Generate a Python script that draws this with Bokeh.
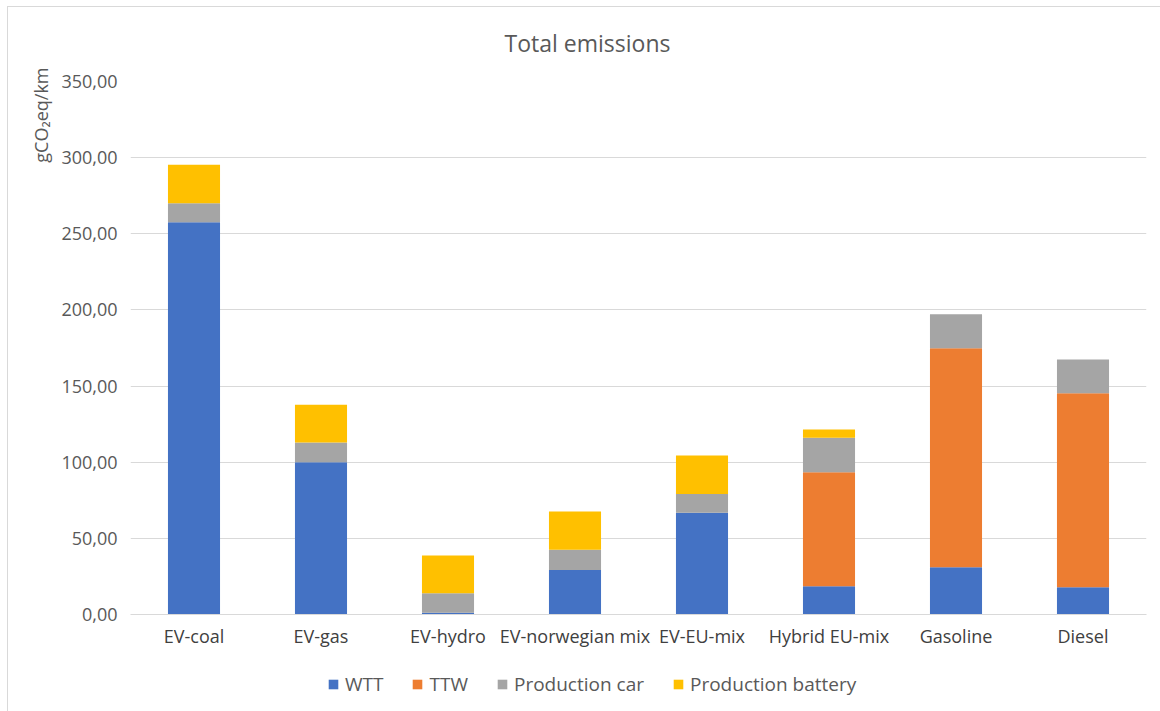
from bokeh.plotting import figure
from bokeh.layouts import column
from bokeh.models import (ColumnDataSource, FactorRange, Range1d, FixedTicker,
                          Legend, LegendItem, Title, Label)
from bokeh.embed import file_html
from bokeh.resources import INLINE

categories = ["EV-coal", "EV-gas", "EV-hydro", "EV-norwegian mix", "EV-EU-mix",
              "Hybrid EU-mix", "Gasoline", "Diesel"]
wtt = [257.6, 100.0, 1.2, 29.3, 66.8, 18.6, 31.1, 17.9]
ttw = [0.0, 0.0, 0.0, 0.0, 0.0, 74.8, 143.8, 127.4]
production_car = [12.5, 12.9, 12.8, 13.2, 12.4, 22.6, 22.3, 22.1]
production_battery = [25.2, 24.8, 24.7, 25.1, 25.2, 5.5, 0.0, 0.0]

series_names = ["WTT", "TTW", "Production car", "Production battery"]
series_colors = ["#4472C4", "#ED7D31", "#A5A5A5", "#FFC000"]

y_ticks = [0, 50, 100, 150, 200, 250, 300, 350]
y_tick_labels = ["0,00", "50,00", "100,00", "150,00", "200,00", "250,00", "300,00", "350,00"]

FONT = "Open Sans"
TEXT_GREY = "#595959"
GRID = "#d9d9d9"


def blank_strip(height):
    """A figure with no axes or grid, used to host a heading or the legend."""
    f = figure(x_range=Range1d(0, 1), y_range=Range1d(0, 1),
               width=1152, height=height,
               output_backend="svg", toolbar_location=None,
               min_border=0, outline_line_color=None,
               background_fill_color="white", border_fill_color="white")
    f.axis.visible = False
    f.grid.grid_line_color = None
    return f


source = ColumnDataSource(data={
    "cat": categories,
    "WTT": wtt,
    "TTW": ttw,
    "Production car": production_car,
    "Production battery": production_battery,
})

# heading strip
hd = blank_strip(54)
hd.add_layout(Label(x=457, y=19, x_units="screen", y_units="screen",
                    text="Total emissions", text_font=FONT, text_font_size="23px",
                    text_color=TEXT_GREY, text_align="center", text_baseline="middle"))

p = figure(
    x_range=FactorRange(*categories, range_padding=0),
    y_range=Range1d(0, 350),
    width=1152, height=606,
    output_backend="svg", toolbar_location=None,
    min_border_left=122, min_border_right=14,
    min_border_top=20, min_border_bottom=53,
    background_fill_color="white", border_fill_color="white",
    outline_line_color=None,
)

p.vbar_stack(series_names, x="cat", width=0.41, color=series_colors,
             line_color=None, source=source)

# vertical axis caption, near the top of the axis
p.add_layout(Title(text="gCO₂eq/km", align="right", offset=-14, standoff=12,
                   text_font=FONT, text_font_size="18px", text_font_style="normal",
                   text_color=TEXT_GREY), "left")

# axes
p.xgrid.grid_line_color = None
p.ygrid.grid_line_color = GRID
p.ygrid.grid_line_width = 1.2
p.yaxis.ticker = FixedTicker(ticks=y_ticks)
p.yaxis.major_label_overrides = {t: s for t, s in zip(y_ticks, y_tick_labels)}
p.yaxis.axis_line_color = None
p.yaxis.major_tick_line_color = None
p.yaxis.minor_tick_line_color = None
p.yaxis.major_label_standoff = 7
p.yaxis.major_label_text_font = FONT
p.yaxis.major_label_text_font_size = "18px"
p.yaxis.major_label_text_color = TEXT_GREY

p.xaxis.axis_line_color = GRID
p.xaxis.axis_line_width = 1.2
p.xaxis.major_tick_line_color = None
p.xaxis.minor_tick_line_color = None
p.xaxis.major_label_standoff = 3
p.xaxis.major_label_text_font = FONT
p.xaxis.major_label_text_font_size = "18px"
p.xaxis.major_label_text_color = "#404040"

# legend strip underneath the chart; swatch renderers are hidden, only their legend entries show
lg = blank_strip(44)
swatch_src = ColumnDataSource(data={"x": [-5.0], "top": [-5.0]})
swatches = [lg.vbar(x="x", top="top", width=0.1, color=c, line_color=None,
                    source=swatch_src, visible=False)
            for c in series_colors]

legend = Legend(
    items=[LegendItem(label=n, renderers=[r]) for n, r in zip(series_names, swatches)],
    orientation="horizontal", location=(197, 14),
    padding=0, margin=0, spacing=28, label_standoff=6,
    glyph_width=12, glyph_height=12,
    label_text_font=FONT, label_text_font_size="19px", label_text_color=TEXT_GREY,
    border_line_color=None, background_fill_alpha=0,
    inactive_fill_alpha=0,
)
lg.add_layout(legend, "center")

page = column(hd, p, lg, spacing=0, margin=(6, 0, 0, 7),
              styles={"border-left": "1px solid #d9d9d9", "border-top": "1px solid #d9d9d9"})

open("out.html", "w").write(file_html(page, INLINE))
